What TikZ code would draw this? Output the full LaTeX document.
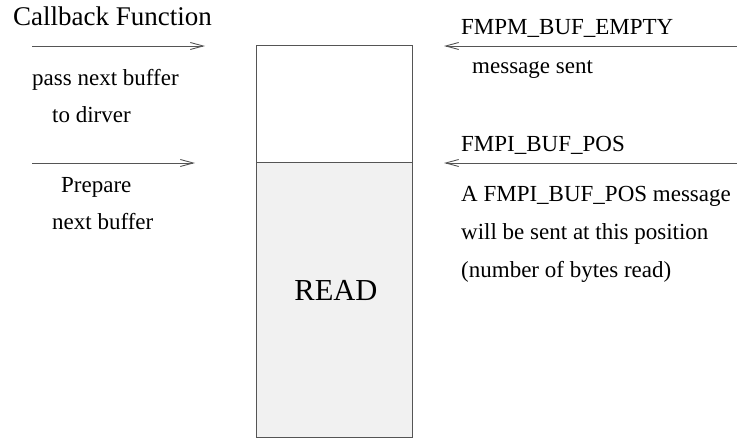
\documentclass[tikz,border=0pt]{standalone}
\usepackage{fontspec}
\setmainfont{Liberation Serif}
\usetikzlibrary{arrows.meta}
\definecolor{linegray}{RGB}{85,85,85}
\definecolor{readfill}{RGB}{241,241,241}
\tikzset{
  lbl/.style={anchor=base west, inner sep=0pt, font=\fontsize{23}{27}\selectfont},
  big/.style={anchor=base west, inner sep=0pt, font=\fontsize{27}{32}\selectfont},
  conn/.style={draw=linegray, line width=0.9pt, -{Straight Barb[length=13pt,width=7pt,line width=0.9pt]}},
  cell/.style={draw=linegray, line width=0.9pt}
}
\begin{document}
\begin{tikzpicture}[x=1pt,y=-1pt]
\useasboundingbox (0,0) rectangle (737,438);
% buffer box
\path[cell, fill=white] (256,45) rectangle (412,162);
\path[cell, fill=readfill] (256,162) rectangle (412,437);
\node[inner sep=0pt, font=\fontsize{30.5}{36}\selectfont] (read) at (336,290) {READ};
% left side
\node[big] (cb) at (13,26) {Callback Function};
\coordinate (a1s) at (32,46);
\coordinate (a1e) at (205,46);
\draw[conn] (a1s) -- (a1e);
\node[lbl] (pass) at (32,86) {pass next buffer};
\node[lbl] (todr) at (52,123) {to dirver};
\coordinate (a2s) at (32,163);
\coordinate (a2e) at (195,163);
\draw[conn] (a2s) -- (a2e);
\node[lbl] (prep) at (61,193) {Prepare};
\node[lbl] (nbuf) at (52,230) {next buffer};
% right side
\node[lbl] (empty) at (461,35) {FMPM\_BUF\_EMPTY};
\coordinate (b1s) at (737,46);
\coordinate (b1e) at (444,46);
\draw[conn] (b1s) -- (b1e);
\node[lbl] (msg) at (472,74) {message sent};
\node[lbl] (pos) at (461,152) {FMPI\_BUF\_POS};
\coordinate (b2s) at (737,163);
\coordinate (b2e) at (444,163);
\draw[conn] (b2s) -- (b2e);
\node[lbl] (l1) at (461,202) {A FMPI\_BUF\_POS message};
\node[lbl] (l2) at (461,240) {will be sent at this position};
\node[lbl] (l3) at (461,278) {(number of bytes read)};
\end{tikzpicture}
\end{document}
